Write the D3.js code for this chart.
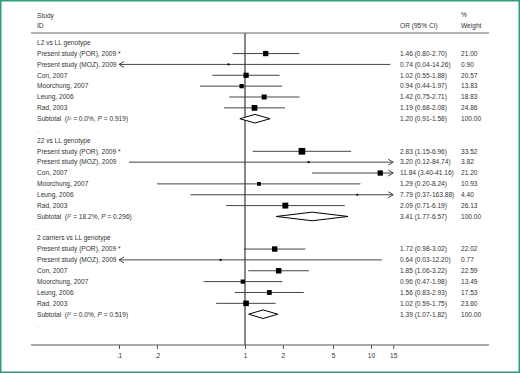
<!DOCTYPE html>
<html>
<head>
<meta charset="utf-8">
<script src="https://cdn.jsdelivr.net/npm/d3@7"></script>
<style>
  body { margin: 0; background: #fff; }
  text { font-family: "Liberation Sans", Arial, sans-serif; }
</style>
</head>
<body>
<div id="chart"></div>
<script>
const groups = ["L2 vs LL genotype", "22 vs LL genotype", "2 carriers vs LL genotype"];
const studies = ["Present study (POR), 2009 *", "Present study (MOZ), 2009", "Con, 2007", "Moorchung, 2007", "Leung, 2006", "Rad, 2003"];

// per group, per study
const orValues = [
    [1.46, 0.74, 1.02, 0.94, 1.42, 1.19],
    [2.83, 3.20, 11.84, 1.29, 7.79, 2.09],
    [1.72, 0.64, 1.85, 0.96, 1.56, 1.02]
];
const lowerCI = [
    [0.80, 0.04, 0.55, 0.44, 0.75, 0.68],
    [1.15, 0.12, 3.40, 0.20, 0.37, 0.71],
    [0.98, 0.03, 1.06, 0.47, 0.83, 0.59]
];
const upperCI = [
    [2.70, 14.26, 1.88, 1.97, 2.71, 2.08],
    [6.96, 84.74, 41.16, 8.24, 163.88, 6.19],
    [3.02, 12.20, 3.22, 1.98, 2.93, 1.75]
];
const weights = [
    [21.00, 0.90, 20.57, 13.83, 18.83, 24.86],
    [33.52, 3.82, 21.20, 10.93, 4.40, 26.13],
    [22.02, 0.77, 22.59, 13.49, 17.53, 23.60]
];
const subtotalOR = [1.20, 3.41, 1.39];
const subtotalLower = [0.91, 1.77, 1.07];
const subtotalUpper = [1.58, 6.57, 1.82];
const subtotalI2 = ["0.0%", "18.2%", "0.0%"];
const subtotalP = ["0.919", "0.296", "0.519"];

const tickValues = [0.1, 0.2, 1, 2, 5, 10, 15];
const tickLabels = [".1", ".2", "1", "2", "5", "10", "15"];

let width = 520;
let height = 373;
let fontSize = 6.6;
let textColor = "#333";
let lineColor = "#444";
let labelX = 37;
let orX = 400;
let weightX = 461;
let firstRowY = 42.7;
let rowStep = 10.86;
let axisY = 345;
let headerLineY = 33;
let plotLeft = 31, plotRight = 489;
let clipMin = 0.1, clipMax = 15;

const xScale = d3.scaleLog().domain([0.1, 1]).range([119, 245]);
const rowY = i => firstRowY + i * rowStep;
const fmt = d3.format(".2f");

const svg = d3.select("#chart").append("svg")
    .attr("width", width)
    .attr("height", height)
    .attr("viewBox", [0, 0, width, height]);

// green frame
svg.append("rect")
    .attr("x", 0.75).attr("y", 0.75)
    .attr("width", width - 1.5).attr("height", height - 1.5)
    .attr("fill", "none")
    .attr("stroke", "#2e9e7c")
    .attr("stroke-width", 1.5);

const txt = (x, y, s) => svg.append("text")
    .attr("x", x).attr("y", y)
    .attr("dy", "0.35em")
    .attr("font-size", fontSize)
    .attr("fill", textColor)
    .text(s);

// header
txt(labelX, 16, "Study");
txt(labelX, 26, "ID");
txt(orX, 26, "OR (95% CI)");
txt(weightX, 15, "%");
txt(weightX, 26, "Weight");

svg.append("line")
    .attr("x1", plotLeft).attr("x2", plotRight)
    .attr("y1", headerLineY).attr("y2", headerLineY)
    .attr("stroke", "#666").attr("stroke-width", 1);

// null line
svg.append("line")
    .attr("x1", xScale(1)).attr("x2", xScale(1))
    .attr("y1", headerLineY).attr("y2", axisY)
    .attr("stroke", "#555").attr("stroke-width", 1.4);

// x axis
const xAxis = d3.axisBottom(xScale)
    .tickValues(tickValues)
    .tickFormat((d, i) => tickLabels[i])
    .tickSize(4)
    .tickSizeOuter(0);

svg.append("g")
    .attr("transform", `translate(0,${axisY})`)
    .call(xAxis)
    .call(g => g.select(".domain").remove())
    .call(g => g.selectAll(".tick line").attr("stroke", "#555"))
    .call(g => g.selectAll(".tick text")
        .attr("font-size", fontSize)
        .attr("fill", textColor)
        .attr("font-family", "Liberation Sans, Arial, sans-serif")
        .attr("y", 8));

svg.append("line")
    .attr("x1", plotLeft).attr("x2", plotRight)
    .attr("y1", axisY).attr("y2", axisY)
    .attr("stroke", "#555").attr("stroke-width", 1.2);

function arrowHead(x, y, dir) {
    // dir = -1 left, +1 right
    svg.append("path")
        .attr("d", `M${x - dir * 5},${y - 3}L${x},${y}L${x - dir * 5},${y + 3}`)
        .attr("fill", "none")
        .attr("stroke", lineColor)
        .attr("stroke-width", 1);
}

groups.forEach((gName, g) => {
    const base = g * 9;
    txt(labelX, rowY(base), gName);

    studies.forEach((s, i) => {
        const y = rowY(base + 1 + i);
        txt(labelX, y, s);
        const lo = lowerCI[g][i], hi = upperCI[g][i], or = orValues[g][i], w = weights[g][i];
        const x1 = xScale(Math.max(lo, clipMin));
        const x2 = xScale(Math.min(hi, clipMax));
        svg.append("line")
            .attr("x1", x1).attr("x2", x2)
            .attr("y1", y).attr("y2", y)
            .attr("stroke", lineColor).attr("stroke-width", 1);
        if (lo < clipMin) arrowHead(x1, y, -1);
        if (hi > clipMax) arrowHead(x2, y, 1);

        const side = 1.15 * Math.sqrt(w);
        if (side > 2.5) {
            svg.append("rect")
                .attr("x", xScale(or) - side / 2)
                .attr("y", y - side / 2)
                .attr("width", side).attr("height", side)
                .attr("fill", "#000");
        } else {
            svg.append("circle")
                .attr("cx", xScale(or)).attr("cy", y)
                .attr("r", 1.1)
                .attr("fill", "#000");
        }

        txt(orX, y, `${fmt(or)} (${fmt(lo)}-${fmt(hi)})`);
        txt(weightX, y, fmt(w));
    });

    // subtotal
    const sy = rowY(base + 7);
    const st = svg.append("text")
        .attr("x", labelX).attr("y", sy)
        .attr("dy", "0.35em")
        .attr("font-size", fontSize)
        .attr("fill", textColor)
        .attr("xml:space", "preserve");
    st.append("tspan").text("Subtotal  (");
    st.append("tspan").attr("font-style", "italic").text("I");
    st.append("tspan").attr("font-size", fontSize * 0.65).attr("dy", "-0.35em").text("2");
    st.append("tspan").attr("dy", "0.23em").text(` = ${subtotalI2[g]}, `);
    st.append("tspan").attr("font-style", "italic").text("P");
    st.append("tspan").text(` = ${subtotalP[g]})`);

    const dl = xScale(subtotalLower[g]), dr = xScale(subtotalUpper[g]), dc = xScale(subtotalOR[g]);
    svg.append("path")
        .attr("d", `M${dl},${sy}L${dc},${sy - 4.3}L${dr},${sy}L${dc},${sy + 4.3}Z`)
        .attr("fill", "#fff")
        .attr("stroke", "#000")
        .attr("stroke-width", 1);

    txt(orX, sy, `${fmt(subtotalOR[g])} (${fmt(subtotalLower[g])}-${fmt(subtotalUpper[g])})`);
    txt(weightX, sy, "100.00");

    txt(labelX, rowY(base + 8), ".").attr("fill", "#aaa");
});
</script>
</body>
</html>
